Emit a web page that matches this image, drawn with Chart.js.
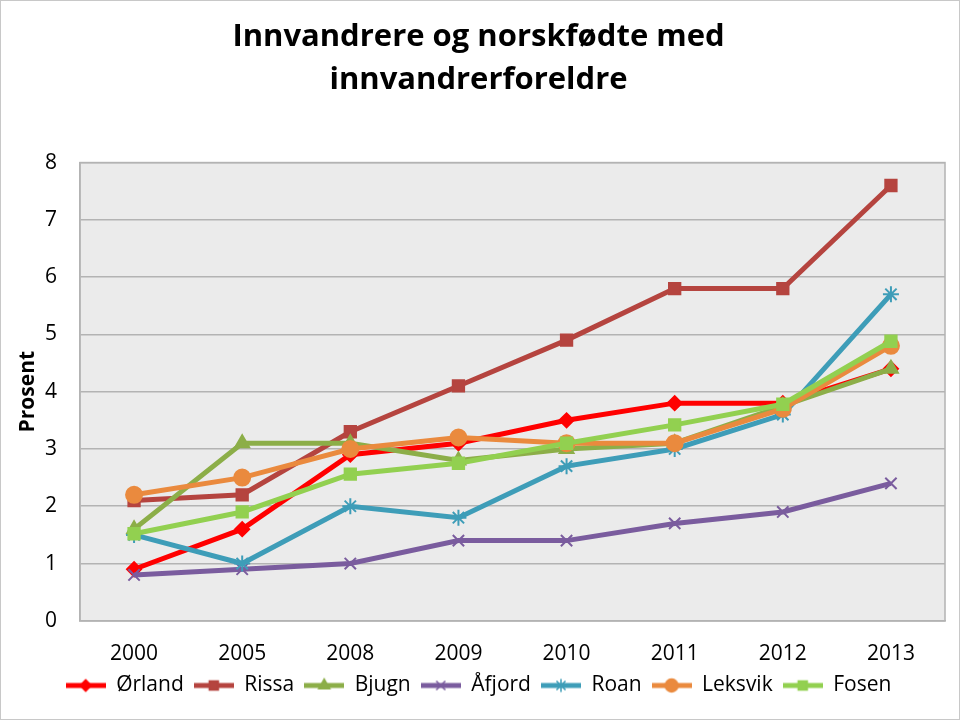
<!DOCTYPE html>
<html><head><meta charset="utf-8">
<script src="https://cdn.jsdelivr.net/npm/chart.js@4.4.1/dist/chart.umd.min.js"></script>
<style>html,body{margin:0;padding:0;background:#fff}#wrap{width:960px;height:720px;position:relative}</style>
</head><body><div id="wrap"><canvas id="c" width="960" height="720"></canvas></div>
<script>
const categories = ['2000','2005','2008','2009','2010','2011','2012','2013'];
const orland  = [0.9, 1.6, 2.9, 3.1, 3.5, 3.8, 3.8, 4.4];
const rissa   = [2.1, 2.2, 3.3, 4.1, 4.9, 5.8, 5.8, 7.6];
const bjugn   = [1.6, 3.1, 3.1, 2.8, 3.0, 3.1, 3.75, 4.4];
const afjord  = [0.8, 0.9, 1.0, 1.4, 1.4, 1.7, 1.9, 2.4];
const roan    = [1.5, 1.0, 2.0, 1.8, 2.7, 3.0, 3.6, 5.7];
const leksvik = [2.2, 2.5, 3.0, 3.2, 3.1, 3.1, 3.7, 4.8];
const fosen   = [1.52, 1.9, 2.56, 2.75, 3.1, 3.42, 3.78, 4.88];
const seriesNames = ['Ørland','Rissa','Bjugn','Åfjord','Roan','Leksvik','Fosen'];
const yTicks = [0,1,2,3,4,5,6,7,8];

const colors = ['#FF0000','#B5443F','#8CAE48','#7A5C9E','#3E9DB8','#EA8A3E','#92D050'];
const styles = ['rectRot','rect','triangle','crossRot','star','circle','rect'];
const radii  = [7,8,8,8,8,8,8];
const allData = [orland, rissa, bjugn, afjord, roan, leksvik, fosen];
const ICON_W = 40;

function legendIcon(color, style, r){
  const cv = document.createElement('canvas');
  cv.width = ICON_W; cv.height = 18;
  const g = cv.getContext('2d');
  g.strokeStyle = color; g.fillStyle = color; g.lineWidth = 5;
  g.beginPath(); g.moveTo(0,9); g.lineTo(ICON_W,9); g.stroke();
  g.lineWidth = 1.5;
  Chart.helpers.drawPoint(g, {pointStyle: style, radius: r*0.8, borderWidth: 1.5}, ICON_W/2, 9);
  return cv;
}

const datasets = allData.map((d,i)=>({
  label: seriesNames[i],
  data: d,
  order: allData.length - 1 - i,
  borderColor: colors[i],
  backgroundColor: colors[i],
  borderWidth: 5,
  pointStyle: styles[i],
  pointRadius: radii[i],
  pointBorderColor: colors[i],
  pointBackgroundColor: colors[i],
  pointBorderWidth: 2,
  tension: 0
}));

const bgPlugin = {
  id: 'bg',
  beforeDraw(chart){
    const {ctx, chartArea:a} = chart;
    ctx.save();
    ctx.fillStyle = '#fff'; ctx.fillRect(0,0,chart.width,chart.height);
    ctx.fillStyle = '#EBEBEB';
    ctx.fillRect(a.left, a.top, a.right-a.left, a.bottom-a.top);
    ctx.strokeStyle = '#B3B3B3'; ctx.lineWidth = 1.5;
    ctx.strokeRect(a.left, a.top, a.right-a.left, a.bottom-a.top);
    ctx.restore();
  },
  afterDraw(chart){
    const ctx = chart.ctx;
    ctx.save();
    ctx.strokeStyle = '#C8C8C8'; ctx.lineWidth = 1;
    ctx.strokeRect(0.5,0.5,chart.width-1,chart.height-1);
    ctx.restore();
  }
};

new Chart(document.getElementById('c'), {
  type: 'line',
  data: { labels: categories, datasets },
  options: {
    responsive: false,
    animation: false,
    devicePixelRatio: 1,
    layout: { padding: { left: 12, right: 15, top: 10, bottom: 14 } },
    plugins: {
      title: {
        display: true,
        text: ['Innvandrere og norskfødte med','innvandrerforeldre'],
        color: '#000',
        font: { family: 'Open Sans', size: 31, weight: 'bold', lineHeight: 1.38 },
        padding: { top: 6, bottom: 61 }
      },
      legend: {
        position: 'bottom',
        labels: {
          usePointStyle: true,
          pointStyleWidth: ICON_W,
          color: '#000',
          font: { family: 'Open Sans', size: 21 },
          padding: 10,
          generateLabels(chart){
            return chart.data.datasets.map((ds,i)=>({
              text: ds.label,
              fillStyle: colors[i],
              strokeStyle: colors[i],
              lineWidth: 0,
              pointStyle: legendIcon(colors[i], styles[i], radii[i]),
              datasetIndex: i,
              hidden: false,
              fontColor: '#000'
            }));
          }
        }
      },
      tooltip: { enabled: false }
    },
    scales: {
      x: {
        offset: true,
        grid: { display: false, drawTicks: false },
        border: { color: '#B3B3B3', width: 1.5 },
        ticks: { color: '#000', font: { family: 'Open Sans', size: 21 }, padding: 21 },
        afterFit(axis){ axis.height -= 23; }
      },
      y: {
        min: 0, max: 8,
        afterBuildTicks(axis){ axis.ticks = yTicks.map(v=>({value:v})); },
        grid: { color: '#B3B3B3', lineWidth: 1.5, drawTicks: false },
        border: { color: '#B3B3B3', width: 1.5 },
        ticks: { color: '#000', font: { family: 'Open Sans', size: 21 }, padding: 23 },
        title: { display: true, text: 'Prosent', color: '#000', font: { family: 'Open Sans', size: 21, weight: 'bold' }, padding: { top: 3, bottom: 4 } },
        afterFit(axis){ axis.width = 68; }
      }
    }
  },
  plugins: [bgPlugin]
});
</script></body></html>
